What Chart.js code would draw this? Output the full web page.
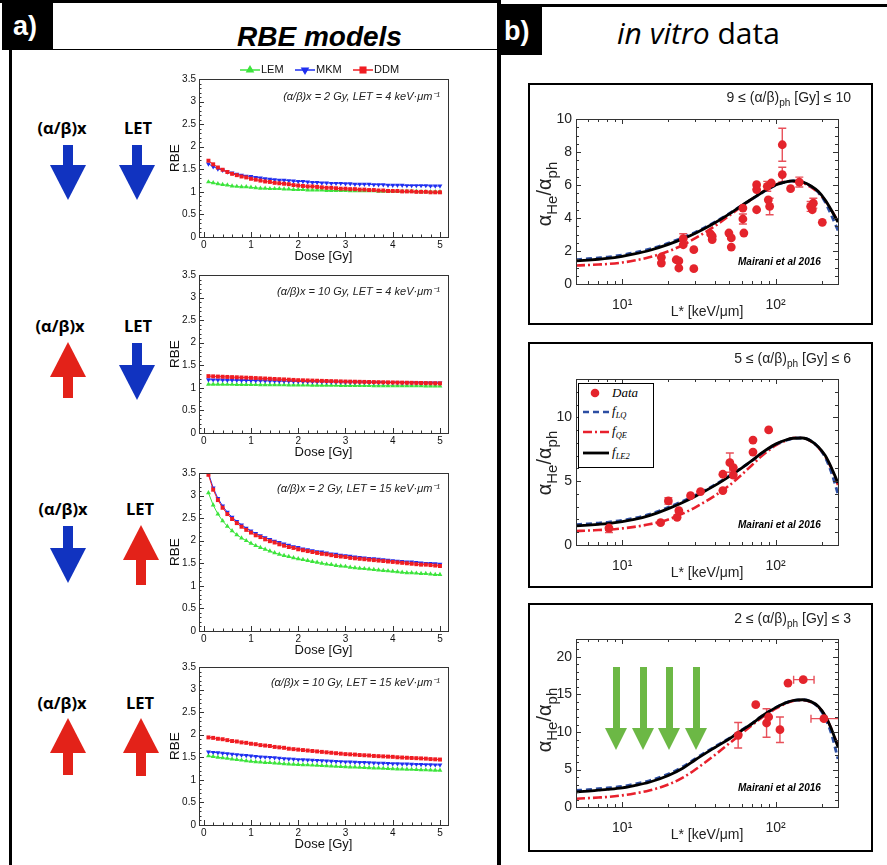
<!DOCTYPE html>
<html>
<head>
<meta charset="utf-8">
<script src="https://cdn.jsdelivr.net/npm/chart.js@4.4.1/dist/chart.umd.min.js"></script>
<style>
  body { margin: 0; width: 887px; height: 865px; position: relative; overflow: hidden; background: #fff;
         font-family: 'Liberation Sans', Arial, sans-serif; }
  .abs { position: absolute; }
  canvas { position: absolute; }
  .line { position: absolute; background: #000; }
  .tag { position: absolute; background: #000; color: #fff; font: bold 27px 'Liberation Sans', Arial, sans-serif; }
  .rowtxt { position: absolute; font: bold 16.5px 'Open Sans', sans-serif; white-space: nowrap; transform: translate(-50%, -50%); }
  .note { position: absolute; font: italic 11px 'Liberation Sans', Arial, sans-serif; color: #222; white-space: nowrap; }
  .btitle { position: absolute; font: 14px 'Liberation Sans', Arial, sans-serif; color: #222; white-space: nowrap; line-height: 18px; }
  .mai { position: absolute; font: bold italic 10px 'Liberation Sans', Arial, sans-serif; white-space: nowrap; }
  .ytit { position: absolute; white-space: nowrap; color: #222; transform: translate(-50%, -50%) rotate(-90deg);
          font: 20px 'Liberation Sans', Arial, sans-serif; line-height: 24px; }
  .ytit span { font-size: 15px; position: relative; top: 6px; }
  sub { font-size: 72%; vertical-align: -0.4em; line-height: 0; }
  .box { position: absolute; border: 2px solid #000; box-sizing: border-box; }
  #legB2 { position: absolute; left: 578px; top: 383px; width: 76px; height: 85px; border: 1.5px solid #000;
           box-sizing: border-box; background: #fff; font: italic 13px 'Liberation Serif', serif; z-index: 5; }
  #legB2 .it { position: absolute; left: 33px; white-space: nowrap; line-height: 14px; }
  #legB2 .it sub { font-size: 65%; }
  #legB2 svg { position: absolute; left: 3px; }
</style>
</head>
<body>

<!-- frame lines -->
<div class="line" style="left:0; top:0; width:498px; height:3px;"></div>
<div class="line" style="left:498px; top:4px; width:389px; height:3px;"></div>
<div class="line" style="left:9px; top:50px; width:3px; height:815px;"></div>
<div class="line" style="left:53px; top:49px; width:445px; height:1px;"></div>
<div class="line" style="left:497px; top:0; width:4px; height:865px;"></div>

<div class="tag" style="left:2px; top:3px; width:51px; height:47px;"><span style="position:absolute; left:11px; top:8px;">a)</span></div>
<div class="tag" style="left:497px; top:7px; width:45px; height:48px;"><span style="position:absolute; left:7px; top:9px;">b)</span></div>

<div class="abs" style="left:237px; top:21px; font: bold italic 28px 'Liberation Sans', Arial, sans-serif;">RBE models</div>
<div class="abs" style="left:617px; top:12px; font: 30px 'Open Sans', sans-serif;"><i>in vitro</i> data</div>

<!-- panel a row labels -->
<div class="rowtxt" style="left:62px; top:127px;">(α/β)x</div>
<div class="rowtxt" style="left:138px; top:127px;">LET</div>
<div class="rowtxt" style="left:60px; top:325px;">(α/β)x</div>
<div class="rowtxt" style="left:138px; top:325px;">LET</div>
<div class="rowtxt" style="left:63px; top:508px;">(α/β)x</div>
<div class="rowtxt" style="left:140px; top:508px;">LET</div>
<div class="rowtxt" style="left:62px; top:702px;">(α/β)x</div>
<div class="rowtxt" style="left:140px; top:702px;">LET</div>
<div id="arrows"></div>

<!-- panel a charts -->
<canvas id="ca1" width="300" height="209" style="left:160px; top:56px;"></canvas>
<canvas id="ca2" width="300" height="209" style="left:160px; top:252px;"></canvas>
<canvas id="ca3" width="300" height="209" style="left:160px; top:450px;"></canvas>
<canvas id="ca4" width="300" height="209" style="left:160px; top:644px;"></canvas>
<div class="note" style="right:447px; top:88px;">(α/β)x = 2 Gy, LET = 4 keV·μm⁻¹</div>
<div class="note" style="right:447px; top:283px;">(α/β)x = 10 Gy, LET = 4 keV·μm⁻¹</div>
<div class="note" style="right:447px; top:480px;">(α/β)x = 2 Gy, LET = 15 keV·μm⁻¹</div>
<div class="note" style="right:447px; top:674px;">(α/β)x = 10 Gy, LET = 15 keV·μm⁻¹</div>

<!-- panel b charts -->
<div class="box" style="left:528px; top:83px; width:345px; height:242px;"></div>
<div class="box" style="left:528px; top:342px; width:345px; height:246px;"></div>
<div class="box" style="left:528px; top:603px; width:345px; height:249px;"></div>
<canvas id="cb1" width="341" height="238" style="left:530px; top:85px;"></canvas>
<canvas id="cb2" width="341" height="240" style="left:530px; top:344px;"></canvas>
<canvas id="cb3" width="341" height="241" style="left:530px; top:605px;"></canvas>

<div class="btitle" style="right:36px; top:88px;">9 ≤ (α/β)<sub>ph</sub> [Gy] ≤ 10</div>
<div class="btitle" style="right:36px; top:349px;">5 ≤ (α/β)<sub>ph</sub> [Gy] ≤ 6</div>
<div class="btitle" style="right:36px; top:609px;">2 ≤ (α/β)<sub>ph</sub> [Gy] ≤ 3</div>
<div class="ytit" style="left:545px; top:194px;">α<span>He</span>/α<span>ph</span></div>
<div class="ytit" style="left:545px; top:463px;">α<span>He</span>/α<span>ph</span></div>
<div class="ytit" style="left:545px; top:720px;">α<span>He</span>/α<span>ph</span></div>
<div class="mai" style="left:738px; top:256px;">Mairani et al 2016</div>
<div class="mai" style="left:738px; top:519px;">Mairani et al 2016</div>
<div class="mai" style="left:738px; top:782px;">Mairani et al 2016</div>

<div id="legB2">
  <svg width="28" height="80" style="top:0;">
    <circle cx="13" cy="9" r="4.3" fill="#e4242c"/>
    <line x1="1" y1="28" x2="27" y2="28" stroke="#2c4ea2" stroke-width="2.6" stroke-dasharray="6,4"/>
    <line x1="1" y1="48" x2="27" y2="48" stroke="#e8202c" stroke-width="2.6" stroke-dasharray="9,3,2,3"/>
    <line x1="1" y1="69" x2="27" y2="69" stroke="#000" stroke-width="2.8"/>
  </svg>
  <div class="it" style="top:2px;">Data</div>
  <div class="it" style="top:20px;">f<sub>LQ</sub></div>
  <div class="it" style="top:40px;">f<sub>QE</sub></div>
  <div class="it" style="top:61px;">f<sub>LE2</sub></div>
</div>

<script>
// ---------- panel a: RBE vs dose ----------
var doses = [0.1, 0.2, 0.3, 0.4, 0.5, 0.6, 0.7, 0.8, 0.9, 1.0,
             1.1, 1.2, 1.3, 1.4, 1.5, 1.6, 1.7, 1.8, 1.9, 2.0,
             2.1, 2.2, 2.3, 2.4, 2.5, 2.6, 2.7, 2.8, 2.9, 3.0,
             3.1, 3.2, 3.3, 3.4, 3.5, 3.6, 3.7, 3.8, 3.9, 4.0,
             4.1, 4.2, 4.3, 4.4, 4.5, 4.6, 4.7, 4.8, 4.9, 5.0];
var doseTicks = [0, 1, 2, 3, 4, 5];
var rbeTicks = [0, 0.5, 1, 1.5, 2, 2.5, 3, 3.5];

// (a/b)x = 2 Gy, LET = 4
var lem1 = [1.22, 1.20, 1.18, 1.16, 1.15, 1.13, 1.12, 1.11, 1.11, 1.10, 1.09, 1.08, 1.08, 1.07, 1.07, 1.07, 1.06, 1.06, 1.05, 1.05,
            1.05, 1.04, 1.04, 1.04, 1.04, 1.03, 1.03, 1.03, 1.03, 1.03, 1.02, 1.02, 1.02, 1.02, 1.02, 1.02, 1.01, 1.01, 1.01, 1.01,
            1.01, 1.01, 1.01, 1.01, 1.01, 1.00, 1.00, 1.00, 1.00, 1.00];
var mkm1 = [1.62, 1.56, 1.51, 1.48, 1.44, 1.42, 1.39, 1.37, 1.35, 1.34, 1.32, 1.31, 1.29, 1.28, 1.27, 1.26, 1.26, 1.25, 1.24, 1.23,
            1.23, 1.22, 1.21, 1.21, 1.20, 1.20, 1.19, 1.19, 1.19, 1.18, 1.18, 1.17, 1.17, 1.17, 1.17, 1.16, 1.16, 1.16, 1.15, 1.15,
            1.15, 1.15, 1.14, 1.14, 1.14, 1.14, 1.14, 1.13, 1.13, 1.13];
var ddm1 = [1.69, 1.61, 1.54, 1.49, 1.44, 1.40, 1.37, 1.34, 1.32, 1.29, 1.27, 1.25, 1.23, 1.22, 1.20, 1.19, 1.18, 1.17, 1.15, 1.14,
            1.13, 1.12, 1.12, 1.11, 1.10, 1.09, 1.09, 1.08, 1.07, 1.07, 1.06, 1.06, 1.05, 1.05, 1.04, 1.04, 1.03, 1.03, 1.02, 1.02,
            1.02, 1.01, 1.01, 1.01, 1.00, 1.00, 1.00, 0.99, 0.99, 0.99];
// (a/b)x = 10 Gy, LET = 4
var lem2 = [1.080, 1.079, 1.078, 1.077, 1.076, 1.075, 1.074, 1.073, 1.072, 1.071, 1.070, 1.069, 1.068, 1.067, 1.066, 1.065, 1.064, 1.063, 1.062, 1.061,
            1.060, 1.059, 1.058, 1.057, 1.056, 1.055, 1.054, 1.053, 1.052, 1.051, 1.050, 1.050, 1.049, 1.048, 1.048, 1.047, 1.046, 1.046, 1.045, 1.045,
            1.044, 1.044, 1.043, 1.043, 1.042, 1.042, 1.041, 1.041, 1.040, 1.040];
var mkm2 = [1.180, 1.178, 1.176, 1.174, 1.172, 1.170, 1.168, 1.166, 1.164, 1.162, 1.160, 1.158, 1.156, 1.154, 1.152, 1.150, 1.148, 1.146, 1.144, 1.142,
            1.140, 1.138, 1.137, 1.136, 1.134, 1.133, 1.132, 1.130, 1.129, 1.128, 1.127, 1.126, 1.125, 1.124, 1.123, 1.122, 1.121, 1.120, 1.119, 1.118,
            1.117, 1.116, 1.115, 1.115, 1.114, 1.113, 1.112, 1.112, 1.111, 1.110];
var ddm2 = [1.260, 1.255, 1.250, 1.246, 1.242, 1.238, 1.234, 1.230, 1.226, 1.222, 1.217, 1.212, 1.207, 1.202, 1.197, 1.192, 1.187, 1.182, 1.176, 1.170,
            1.167, 1.164, 1.161, 1.158, 1.155, 1.152, 1.149, 1.146, 1.143, 1.140, 1.138, 1.136, 1.134, 1.132, 1.130, 1.128, 1.126, 1.124, 1.122, 1.120,
            1.118, 1.116, 1.114, 1.112, 1.110, 1.108, 1.106, 1.104, 1.102, 1.100];
// (a/b)x = 2 Gy, LET = 15
var lem3 = [3.06, 2.79, 2.59, 2.44, 2.32, 2.22, 2.13, 2.06, 2.00, 1.94, 1.89, 1.85, 1.81, 1.77, 1.73, 1.70, 1.67, 1.65, 1.62, 1.60,
            1.58, 1.56, 1.54, 1.52, 1.50, 1.48, 1.47, 1.45, 1.44, 1.43, 1.41, 1.40, 1.39, 1.38, 1.37, 1.36, 1.35, 1.34, 1.33, 1.32,
            1.31, 1.30, 1.29, 1.29, 1.28, 1.27, 1.27, 1.26, 1.25, 1.25];
var mkm3 = [3.50, 3.17, 2.94, 2.77, 2.63, 2.52, 2.43, 2.35, 2.28, 2.22, 2.16, 2.11, 2.07, 2.03, 1.99, 1.96, 1.93, 1.90, 1.87, 1.85,
            1.82, 1.80, 1.78, 1.76, 1.75, 1.73, 1.71, 1.70, 1.68, 1.67, 1.66, 1.64, 1.63, 1.62, 1.61, 1.60, 1.59, 1.58, 1.57, 1.56,
            1.55, 1.54, 1.53, 1.53, 1.52, 1.51, 1.50, 1.50, 1.49, 1.48];
var ddm3 = [3.46, 3.13, 2.90, 2.73, 2.59, 2.48, 2.39, 2.31, 2.24, 2.18, 2.12, 2.08, 2.03, 1.99, 1.96, 1.92, 1.89, 1.86, 1.84, 1.81,
            1.79, 1.77, 1.75, 1.73, 1.71, 1.70, 1.68, 1.66, 1.65, 1.64, 1.62, 1.61, 1.60, 1.59, 1.58, 1.57, 1.56, 1.55, 1.54, 1.53,
            1.52, 1.51, 1.50, 1.49, 1.48, 1.47, 1.47, 1.46, 1.45, 1.44];
// (a/b)x = 10 Gy, LET = 15
var lem4 = [1.530, 1.515, 1.500, 1.490, 1.475, 1.460, 1.450, 1.435, 1.420, 1.410, 1.400, 1.395, 1.385, 1.380, 1.370, 1.365, 1.355, 1.350, 1.345, 1.340,
            1.335, 1.330, 1.325, 1.320, 1.315, 1.310, 1.305, 1.300, 1.295, 1.290, 1.285, 1.281, 1.276, 1.272, 1.268, 1.263, 1.259, 1.254, 1.250, 1.245,
            1.241, 1.238, 1.234, 1.231, 1.227, 1.224, 1.220, 1.217, 1.213, 1.210];
var mkm4 = [1.620, 1.610, 1.600, 1.590, 1.580, 1.570, 1.560, 1.550, 1.540, 1.530, 1.520, 1.510, 1.505, 1.500, 1.490, 1.480, 1.470, 1.465, 1.460, 1.450,
            1.445, 1.440, 1.435, 1.430, 1.425, 1.420, 1.415, 1.410, 1.405, 1.400, 1.396, 1.392, 1.388, 1.384, 1.380, 1.376, 1.372, 1.368, 1.364, 1.360,
            1.357, 1.354, 1.351, 1.348, 1.345, 1.342, 1.339, 1.336, 1.333, 1.330];
var ddm4 = [1.940, 1.930, 1.910, 1.900, 1.880, 1.860, 1.850, 1.830, 1.820, 1.800, 1.790, 1.770, 1.760, 1.750, 1.730, 1.720, 1.710, 1.690, 1.680, 1.670,
            1.660, 1.650, 1.640, 1.630, 1.620, 1.610, 1.600, 1.590, 1.580, 1.570, 1.565, 1.560, 1.550, 1.545, 1.540, 1.530, 1.525, 1.520, 1.515, 1.510,
            1.500, 1.495, 1.490, 1.485, 1.480, 1.475, 1.470, 1.460, 1.455, 1.450];

// ---------- panel b: alpha ratio vs L* ----------
var letGrid = [5, 6, 7, 8, 10, 12, 15, 20, 25, 30, 40, 50, 60, 70, 80, 90, 100, 115, 130, 150, 170, 190, 210, 230, 255];
var letTicks = [10, 100];

var b1LE2 = [1.40, 1.45, 1.50, 1.55, 1.68, 1.82, 2.03, 2.40, 2.75, 3.08, 3.70, 4.25, 4.75, 5.15, 5.50, 5.78, 6.00, 6.18, 6.25, 6.18, 5.94, 5.60, 5.10, 4.50, 3.75];
var b1LQ  = [1.48, 1.53, 1.58, 1.63, 1.76, 1.90, 2.11, 2.48, 2.82, 3.14, 3.74, 4.27, 4.75, 5.14, 5.48, 5.76, 5.98, 6.17, 6.25, 6.18, 5.92, 5.55, 4.98, 4.20, 3.25];
var b1QE  = [1.12, 1.15, 1.18, 1.21, 1.30, 1.42, 1.62, 1.98, 2.38, 2.78, 3.50, 4.15, 4.70, 5.15, 5.52, 5.82, 6.03, 6.20, 6.22, 6.12, 5.87, 5.52, 5.06, 4.50, 3.80];
var b1L   = [18.0, 18.0, 22.5, 23.4, 23.4, 25.0, 25.0, 29.3, 29.3, 37.7, 38.6, 38.6, 49.6, 51.4, 51.4, 61.2, 61.2, 62.1,
             75.2, 75.2, 75.2, 88.2, 89.6, 91.4, 93.7, 110.5, 110.5, 125.2, 142.7, 169.1, 173.4, 176.1, 201.5];
var b1Y   = [1.62, 1.27, 1.47, 1.40, 0.97, 2.75, 2.38, 2.08, 0.93, 3.03, 2.69, 2.90, 3.09, 2.79, 2.24, 4.60, 3.94, 3.09,
             6.02, 5.72, 4.50, 5.92, 5.10, 4.70, 6.12, 6.63, 8.44, 5.78, 6.18, 4.70, 4.50, 4.90, 3.74];
var b1Err = [0, 0, 0, 0, 0, 0.30, 0, 0, 0, 0, 0, 0, 0, 0, 0, 0, 0.30, 0,
             0, 0, 0, 0.30, 0, 0.50, 0, 0.45, 1.00, 0, 0.30, 0.30, 0, 0.30, 0];

var b2LE2 = [1.50, 1.56, 1.62, 1.68, 1.83, 2.00, 2.30, 2.85, 3.35, 3.82, 4.65, 5.38, 6.02, 6.60, 7.15, 7.58, 7.90, 8.20, 8.36, 8.38, 8.15, 7.68, 7.02, 6.10, 4.85];
var b2LQ  = [1.60, 1.66, 1.72, 1.78, 1.93, 2.10, 2.40, 2.95, 3.45, 3.90, 4.70, 5.42, 6.04, 6.60, 7.13, 7.55, 7.87, 8.18, 8.34, 8.38, 8.16, 7.65, 6.90, 5.75, 4.00];
var b2QE  = [1.10, 1.13, 1.17, 1.20, 1.30, 1.42, 1.62, 2.00, 2.48, 2.95, 3.85, 4.68, 5.50, 6.25, 6.90, 7.40, 7.80, 8.15, 8.38, 8.40, 8.12, 7.62, 6.95, 6.05, 4.70];
var b2L   = [8.2, 17.8, 20.0, 22.8, 23.4, 27.9, 32.4, 45.3, 45.3, 50.3, 53.0, 53.0, 71.2, 71.2, 90.1];
var b2Y   = [1.33, 1.75, 3.45, 2.17, 2.69, 3.86, 4.18, 4.26, 5.54, 6.45, 6.06, 5.48, 7.28, 8.22, 9.01];
var b2Err = [0.35, 0, 0.25, 0, 0, 0, 0, 0, 0, 0.75, 0, 0, 0, 0, 0];

var b3LE2 = [2.00, 2.12, 2.24, 2.34, 2.55, 2.85, 3.30, 4.20, 5.20, 6.30, 7.90, 9.10, 10.2, 11.1, 12.0, 12.7, 13.25, 13.85, 14.2, 14.3, 14.05, 13.4, 12.2, 10.5, 8.0];
var b3LQ  = [2.20, 2.32, 2.44, 2.54, 2.75, 3.05, 3.50, 4.40, 5.40, 6.45, 8.02, 9.18, 10.25, 11.12, 12.0, 12.7, 13.25, 13.85, 14.2, 14.3, 14.05, 13.3, 11.9, 9.9, 6.4];
var b3QE  = [1.10, 1.18, 1.26, 1.34, 1.55, 1.80, 2.20, 3.00, 3.95, 5.00, 6.90, 8.50, 9.80, 10.9, 11.8, 12.5, 13.1, 13.75, 14.15, 14.25, 14.0, 13.35, 12.2, 10.5, 8.1];
var b3L   = [57.0, 74.2, 87.3, 90.1, 106.7, 120.4, 151.3, 206.5];
var b3Y   = [9.56, 13.64, 11.2, 12.0, 10.31, 16.53, 16.98, 11.78];
var b3Err = [1.7, 0, 1.9, 0, 1.7, 0, 0, 0];
var b3ErrX = [null, null, null, null, null, null, [131, 178], [170, 300]];

Chart.defaults.font.family = "'Liberation Sans', Arial, sans-serif";
Chart.defaults.color = '#111';
Chart.defaults.animation = false;
Chart.defaults.plugins.tooltip.enabled = false;

// frame + inward tick marks, ROOT / Mathematica style
var frameTicks = {
  id: 'frameTicks',
  afterDatasetsDraw: function (chart, args, o) {
    var ctx = chart.ctx, a = chart.chartArea, xs = chart.scales.x, ys = chart.scales.y;
    ctx.save();
    ctx.strokeStyle = o.color || '#222';
    ctx.lineWidth = 1;
    ctx.strokeRect(Math.round(a.left) + 0.5, Math.round(a.top) + 0.5, Math.round(a.right - a.left), Math.round(a.bottom - a.top));
    ctx.beginPath();
    function mark(scale, v, len, horiz) {
      var p = Math.round(scale.getPixelForValue(v)) + 0.5;
      if (horiz) {
        if (p < a.left || p > a.right) return;
        ctx.moveTo(p, a.bottom); ctx.lineTo(p, a.bottom - len);
        if (o.allSides) { ctx.moveTo(p, a.top); ctx.lineTo(p, a.top + len); }
      } else {
        if (p < a.top || p > a.bottom) return;
        ctx.moveTo(a.left, p); ctx.lineTo(a.left + len, p);
        if (o.allSides) { ctx.moveTo(a.right, p); ctx.lineTo(a.right - len, p); }
      }
    }
    (o.xMinor || []).forEach(function (v) { mark(xs, v, o.minorLen, true); });
    (o.xMajor || []).forEach(function (v) { mark(xs, v, o.majorLen, true); });
    (o.yMinor || []).forEach(function (v) { mark(ys, v, o.minorLen, false); });
    (o.yMajor || []).forEach(function (v) { mark(ys, v, o.majorLen, false); });
    ctx.stroke();
    ctx.restore();
  }
};

// error bars for the measured points
var errorBars = {
  id: 'errorBars',
  beforeDatasetsDraw: function (chart) {
    var ctx = chart.ctx, a = chart.chartArea, xs = chart.scales.x, ys = chart.scales.y;
    chart.data.datasets.forEach(function (ds) {
      if (!ds.errY) return;
      ctx.save();
      ctx.beginPath(); ctx.rect(a.left, a.top, a.right - a.left, a.bottom - a.top); ctx.clip();
      ctx.strokeStyle = '#e8505a'; ctx.lineWidth = 1.4;
      ctx.beginPath();
      ds.data.forEach(function (p, i) {
        var px = xs.getPixelForValue(p.x), py = ys.getPixelForValue(p.y);
        var e = ds.errY[i];
        if (e > 0) {
          var y1 = ys.getPixelForValue(p.y - e), y2 = ys.getPixelForValue(p.y + e);
          ctx.moveTo(px, y1); ctx.lineTo(px, y2);
          ctx.moveTo(px - 4, y1); ctx.lineTo(px + 4, y1);
          ctx.moveTo(px - 4, y2); ctx.lineTo(px + 4, y2);
        }
        if (ds.errX && ds.errX[i]) {
          var x1 = xs.getPixelForValue(ds.errX[i][0]), x2 = xs.getPixelForValue(ds.errX[i][1]);
          ctx.moveTo(x1, py); ctx.lineTo(x2, py);
          ctx.moveTo(x1, py - 4); ctx.lineTo(x1, py + 4);
          ctx.moveTo(x2, py - 4); ctx.lineTo(x2, py + 4);
        }
      });
      ctx.stroke();
      ctx.restore();
    });
  }
};

// small ROOT-like legend above the first RBE plot
var rootLegend = {
  id: 'rootLegend',
  afterDraw: function (chart, args, o) {
    if (!o.items) return;
    var ctx = chart.ctx;
    o.items.forEach(function (it) {
      var ds = chart.data.datasets[it.index];
      ctx.save();
      ctx.strokeStyle = ds.borderColor; ctx.lineWidth = 1.5;
      ctx.beginPath(); ctx.moveTo(it.x - 10, o.y); ctx.lineTo(it.x + 10, o.y); ctx.stroke();
      ctx.fillStyle = ds.backgroundColor;
      Chart.helpers.drawPoint(ctx, { pointStyle: ds.pointStyle, rotation: ds.pointRotation || 0, radius: 5, borderWidth: 0 }, it.x, o.y);
      ctx.fillStyle = '#111'; ctx.font = "11px 'Liberation Sans', Arial, sans-serif"; ctx.textBaseline = 'middle';
      ctx.fillText(ds.label, it.x + 11, o.y);
      ctx.restore();
    });
  }
};

function rangeStep(from, to, step) {
  var out = [];
  for (var v = from; v <= to + 1e-9; v += step) out.push(Math.round(v * 1000) / 1000);
  return out;
}

function rbeChart(id, lem, mkm, ddm, legend) {
  function series(label, vals, color, style, rot) {
    return {
      label: label,
      data: doses.map(function (d, i) { return { x: d, y: vals[i] }; }),
      borderColor: color, backgroundColor: color, borderWidth: 1,
      pointStyle: style, pointRotation: rot, pointRadius: 2.8, pointBorderWidth: 0
    };
  }
  return new Chart(document.getElementById(id), {
    type: 'line',
    data: {
      datasets: [
        series('DDM', ddm, '#f01c22', 'rect', 0),
        series('MKM', mkm, '#1f2ff0', 'triangle', 180),
        series('LEM', lem, '#3ce43c', 'triangle', 0)
      ]
    },
    options: {
      responsive: false,
      layout: { padding: { left: 0, right: 12, top: 23, bottom: 0 } },
      plugins: {
        legend: { display: false },
        frameTicks: { color: '#333', majorLen: 5, minorLen: 2.5,
                      xMajor: doseTicks, xMinor: rangeStep(0, 5.1, 0.2),
                      yMajor: rbeTicks, yMinor: rangeStep(0, 3.5, 0.1) },
        rootLegend: legend ? { y: 14, items: [{ index: 2, x: 90 }, { index: 1, x: 145 }, { index: 0, x: 203 }] } : {}
      },
      scales: {
        x: {
          type: 'linear', min: -0.1, max: 5.17,
          grid: { display: false, drawTicks: false }, border: { display: false },
          afterBuildTicks: function (s) { s.ticks = doseTicks.map(function (v) { return { value: v }; }); },
          afterFit: function (s) { s.height = 28; },
          ticks: { font: { size: 10 }, padding: 2, maxRotation: 0, callback: function (v) { return String(v); } },
          title: { display: true, text: 'Dose [Gy]', font: { size: 13 }, padding: { top: 0, bottom: 1 } }
        },
        y: {
          min: 0, max: 3.5,
          grid: { display: false, drawTicks: false }, border: { display: false },
          afterBuildTicks: function (s) { s.ticks = rbeTicks.map(function (v) { return { value: v }; }); },
          afterFit: function (s) { s.width = 39; },
          ticks: { font: { size: 10 }, padding: 3, callback: function (v) { return String(v); } },
          title: { display: true, text: 'RBE', font: { size: 13.5 }, padding: { top: 7, bottom: 0 } }
        }
      }
    },
    plugins: [frameTicks, rootLegend]
  });
}

rbeChart('ca1', lem1, mkm1, ddm1, true);
rbeChart('ca2', lem2, mkm2, ddm2, false);
rbeChart('ca3', lem3, mkm3, ddm3, false);
rbeChart('ca4', lem4, mkm4, ddm4, false);

function letChart(id, le2, lq, qe, ptsL, ptsY, errY, errX, yMax, yTicks, yMinorStep, topPad) {
  function curve(label, vals, color, dash, order, width) {
    return {
      label: label, showLine: true, pointRadius: 0, borderColor: color, borderWidth: width,
      borderDash: dash, cubicInterpolationMode: 'monotone', order: order,
      data: letGrid.map(function (l, i) { return { x: l, y: vals[i] }; })
    };
  }
  var xMinor = [5, 6, 7, 8, 9, 20, 30, 40, 50, 60, 70, 80, 90, 200];
  return new Chart(document.getElementById(id), {
    type: 'scatter',
    data: {
      datasets: [
        { label: 'Data', order: 0, pointRadius: 4.4, backgroundColor: '#e4242c', borderWidth: 0,
          errY: errY, errX: errX,
          data: ptsL.map(function (l, i) { return { x: l, y: ptsY[i] }; }) },
        curve('fLE2', le2, '#000', [], 1, 2.8),
        curve('fLQ', lq, '#2c4ea2', [6, 4], 2, 2.8),
        curve('fQE', qe, '#e8202c', [9, 3, 2, 3], 3, 2.6)
      ]
    },
    options: {
      responsive: false,
      layout: { padding: { left: 0, right: 33, top: topPad, bottom: 0 } },
      plugins: {
        legend: { display: false },
        frameTicks: { color: '#333', allSides: true, majorLen: 5, minorLen: 3,
                      xMajor: letTicks, xMinor: xMinor,
                      yMajor: yTicks, yMinor: rangeStep(0, yMax, yMinorStep) }
      },
      scales: {
        x: {
          type: 'logarithmic', min: 5, max: 255,
          grid: { display: false, drawTicks: false }, border: { display: false },
          afterBuildTicks: function (s) { s.ticks = letTicks.map(function (v) { return { value: v }; }); },
          afterFit: function (s) { s.height = 39; },
          ticks: { font: { size: 14 }, color: '#222', padding: 13, maxRotation: 0,
                   callback: function (v) { return v === 10 ? '10¹' : '10²'; } },
          title: { display: true, text: 'L* [keV/μm]', color: '#222', font: { size: 14 }, padding: { top: 0, bottom: 2 } }
        },
        y: {
          min: 0, max: yMax,
          grid: { display: false, drawTicks: false }, border: { display: false },
          afterBuildTicks: function (s) { s.ticks = yTicks.map(function (v) { return { value: v }; }); },
          afterFit: function (s) { s.width = 46; },
          ticks: { font: { size: 14 }, color: '#222', padding: 4, callback: function (v) { return String(v); } }
        }
      }
    },
    plugins: [errorBars, frameTicks]
  });
}

letChart('cb1', b1LE2, b1LQ, b1QE, b1L, b1Y, b1Err, null, 10, [0, 2, 4, 6, 8, 10], 0.5, 34);
letChart('cb2', b2LE2, b2LQ, b2QE, b2L, b2Y, b2Err, null, 13, [0, 5, 10], 1, 35);
letChart('cb3', b3LE2, b3LQ, b3QE, b3L, b3Y, b3Err, b3ErrX, 22.4, [0, 5, 10, 15, 20], 1, 34);

// decorative arrows (panel a trends, panel b green arrows)
function arrow(cx, top, bottom, headW, headH, shaftW, color, dir) {
  var host = document.getElementById('arrows');
  var shaft = document.createElement('div');
  var head = document.createElement('div');
  shaft.style.cssText = 'position:absolute;background:' + color + ';width:' + shaftW + 'px;left:' + (cx - shaftW / 2) + 'px;height:' + (bottom - top - headH + 1) + 'px;';
  head.style.cssText = 'position:absolute;width:0;height:0;left:' + (cx - headW / 2) + 'px;border-left:' + headW / 2 + 'px solid transparent;border-right:' + headW / 2 + 'px solid transparent;';
  if (dir === 'down') {
    shaft.style.top = top + 'px';
    head.style.top = (bottom - headH) + 'px';
    head.style.borderTop = headH + 'px solid ' + color;
  } else {
    head.style.top = top + 'px';
    head.style.borderBottom = headH + 'px solid ' + color;
    shaft.style.top = (top + headH - 1) + 'px';
  }
  host.appendChild(shaft); host.appendChild(head);
}
var blue = '#1133c0', red = '#e32219', green = '#6cb845';
arrow(68, 145, 200, 36, 35, 10, blue, 'down');
arrow(137, 145, 200, 36, 35, 10, blue, 'down');
arrow(68, 342, 398, 36, 35, 10, red, 'up');
arrow(137, 343, 400, 36, 35, 10, blue, 'down');
arrow(68, 526, 583, 36, 35, 10, blue, 'down');
arrow(141, 525, 585, 36, 35, 10, red, 'up');
arrow(68, 718, 775, 36, 35, 10, red, 'up');
arrow(141, 718, 776, 36, 35, 10, red, 'up');
[616, 643, 669, 696].forEach(function (x) { arrow(x, 667, 750, 22, 22, 7, green, 'down'); });
</script>
</body>
</html>
